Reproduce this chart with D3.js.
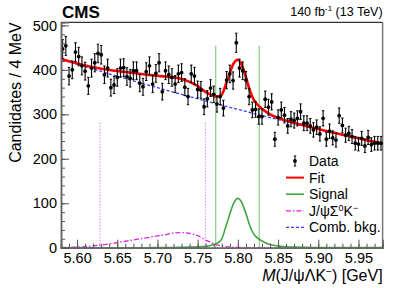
<!DOCTYPE html>
<html>
<head>
<meta charset="utf-8">
<script src="https://cdn.jsdelivr.net/npm/d3@7"></script>
<style>
    body { margin: 0; background: #fff; }
    text { font-family: "Liberation Sans", Arial, sans-serif; fill: #000; }
</style>
</head>
<body>
<svg id="chart" width="399" height="288"></svg>
<script>
// 4 MeV bins from 5.58 to 5.98 GeV
const binStart = 5.58;
const binWidth = 0.004;
const counts = [
    447, 454, 386, 400, 440, 430, 409, 397, 364, 404,
    416, 437, 434, 389, 404, 360, 366, 383, 404, 405,
    385, 381, 398, 398, 370, 362, 396, 409, 368, 392,
    416, 351, 398, 389, 383, 368, 391, 394, 361, 340,
    391, 386, 356, 355, 317, 335, 359, 345, 323, 340,
    314, 377, 391, 376, 461, 404, 398, 377, 340, 310,
    311, 295, 295, 334, 316, 328, 244, 293, 310, 298,
    274, 289, 286, 291, 306, 280, 280, 274, 265, 271,
    256, 291, 244, 262, 247, 242, 297, 275, 253, 257,
    250, 235, 233, 246, 229, 248, 232, 235, 235, 235
];

const curveMass = [
    5.58, 5.59, 5.60, 5.61, 5.62, 5.63, 5.64, 5.65, 5.66, 5.67,
    5.68, 5.69, 5.70, 5.71, 5.72, 5.73, 5.74, 5.75, 5.76, 5.765,
    5.77, 5.775, 5.78, 5.785, 5.79, 5.795, 5.80, 5.805, 5.81, 5.815,
    5.82, 5.825, 5.83, 5.84, 5.85, 5.86, 5.87, 5.88, 5.89, 5.90,
    5.91, 5.92, 5.93, 5.94, 5.95, 5.96, 5.97, 5.98
];
const fitVals = [
    424.5, 419.4, 414.4, 409.9, 405.9, 402.5, 399.7, 397.3, 395.1, 392.8,
    390.6, 388.5, 386.7, 384.7, 383.4, 379.7, 373.0, 363.7, 350.1, 345.2,
    341.3, 339.9, 344.5, 367.6, 393.3, 415.4, 422.7, 410.2, 383.7, 353.3,
    331.9, 320.6, 312.3, 299.8, 291.8, 285.9, 280.7, 275.9, 271.4, 267.0,
    262.6, 258.5, 254.2, 250.1, 246.1, 242.0, 238.0, 234.1
];
const bkgVals = [
    424.0, 418.4, 412.9, 407.4, 401.9, 396.5, 391.2, 385.8, 380.6, 375.3,
    370.1, 365.0, 359.9, 354.8, 349.8, 344.8, 339.8, 334.9, 330.1, 327.7,
    325.3, 322.9, 320.5, 318.1, 315.8, 313.4, 311.1, 308.8, 306.4, 304.1,
    301.8, 299.6, 297.3, 292.8, 288.3, 283.9, 279.5, 275.1, 270.8, 266.6,
    262.3, 258.2, 254.0, 249.9, 245.9, 241.9, 237.9, 234.0
];
const sigma0Vals = [
    0.5, 1, 1.5, 2.5, 4, 6, 8.5, 11.5, 14.5, 17.5,
    20.5, 23.5, 26.5, 29.5, 33, 34, 32, 27, 17, 13,
    9, 6, 4, 2.5, 1.5, 1, 0.6, 0.4, 0.3, 0.2,
    0.1, 0, 0, 0, 0, 0, 0, 0, 0, 0,
    0, 0, 0, 0, 0, 0, 0, 0
];
const signalVals = [
    0, 0, 0, 0, 0, 0, 0, 0, 0, 0,
    0, 0, 0.3, 0.4, 0.6, 0.9, 1.2, 1.8, 3, 4.5,
    7, 11, 20, 47, 76, 101, 111, 101, 77, 49,
    30, 21, 15, 7, 3.5, 2, 1.2, 0.8, 0.6, 0.4,
    0.3, 0.3, 0.2, 0.2, 0.2, 0.1, 0.1, 0.1
];

// signal window (green) and Sigma0 window (violet) boundaries
const signalWindow = [5.7725, 5.8265];
const signalWindowTop = 454;
const sigma0Window = [5.6285, 5.7595];
const sigma0WindowTop = 281;

const xMajor = [5.60, 5.65, 5.70, 5.75, 5.80, 5.85, 5.90, 5.95];
const xMinor = d3.range(5.58, 5.9801, 0.01);
const yMajor = [0, 100, 200, 300, 400, 500];
const yMinor = d3.range(0, 501, 20);

const legendLabels = ['Data', 'Fit', 'Signal', 'Sigma0', 'Comb. bkg.'];

const colors = {
    fit: '#ff0000',
    signal: '#3fa33f',
    signalLine: '#72c272',
    sigma0: '#e020e0',
    sigma0Line: '#cc88ff',
    bkg: '#3a3aff'
};

const svg = d3.select('#chart');
const plot = { left: 61, right: 382.6, top: 22.3, bottom: 247.7 };

const x = d3.scaleLinear().domain([5.58, 5.98]).range([plot.left, plot.right]);
const y = d3.scaleLinear().domain([0, 507]).range([plot.bottom, plot.top]);

// frame
svg.append('line').attr('x1', plot.left).attr('x2', plot.right)
    .attr('y1', plot.top).attr('y2', plot.top).attr('stroke', '#000').attr('stroke-width', 1);
svg.append('line').attr('x1', plot.right).attr('x2', plot.right)
    .attr('y1', plot.top).attr('y2', plot.bottom).attr('stroke', '#777').attr('stroke-width', 1.5);

// window lines
svg.selectAll('.sig-win')
    .data(signalWindow)
    .enter().append('line')
    .attr('x1', d => x(d)).attr('x2', d => x(d))
    .attr('y1', y(signalWindowTop)).attr('y2', y(0))
    .attr('stroke', colors.signalLine).attr('stroke-width', 1);

svg.selectAll('.s0-win')
    .data(sigma0Window)
    .enter().append('line')
    .attr('x1', d => x(d)).attr('x2', d => x(d))
    .attr('y1', y(sigma0WindowTop)).attr('y2', y(0))
    .attr('stroke', colors.sigma0Line).attr('stroke-width', 1)
    .attr('stroke-dasharray', '1.5,1.5');

// curves
const line = vals => d3.line()
    .x((d, i) => x(curveMass[i]))
    .y(d => y(d))
    .curve(d3.curveMonotoneX)(vals);

svg.append('path').attr('d', line(bkgVals))
    .attr('fill', 'none').attr('stroke', colors.bkg).attr('stroke-width', 1.3)
    .attr('stroke-dasharray', '3,2');
svg.append('path').attr('d', line(sigma0Vals))
    .attr('fill', 'none').attr('stroke', colors.sigma0).attr('stroke-width', 1.3)
    .attr('stroke-dasharray', '5,2,1.5,2');
svg.append('path').attr('d', line(signalVals))
    .attr('fill', 'none').attr('stroke', colors.signal).attr('stroke-width', 1.6);
svg.append('path').attr('d', line(fitVals))
    .attr('fill', 'none').attr('stroke', colors.fit).attr('stroke-width', 2.6);

// data points with Poisson errors
const pts = svg.append('g').selectAll('g')
    .data(counts)
    .enter().append('g')
    .attr('transform', (d, i) => `translate(${x(binStart + binWidth * (i + 0.5))},0)`);

pts.append('line')
    .attr('y1', d => y(d + Math.sqrt(d))).attr('y2', d => y(d - Math.sqrt(d)))
    .attr('stroke', '#000').attr('stroke-width', 1.1);
pts.append('line')
    .attr('x1', -1.2).attr('x2', 1.2)
    .attr('y1', d => y(d + Math.sqrt(d))).attr('y2', d => y(d + Math.sqrt(d)))
    .attr('stroke', '#000').attr('stroke-width', 1);
pts.append('line')
    .attr('x1', -1.2).attr('x2', 1.2)
    .attr('y1', d => y(d - Math.sqrt(d))).attr('y2', d => y(d - Math.sqrt(d)))
    .attr('stroke', '#000').attr('stroke-width', 1);
pts.append('circle')
    .attr('cy', d => y(d)).attr('r', 1.9).attr('fill', '#000');

// axes
const xAxis = svg.append('g').attr('transform', `translate(0,${plot.bottom})`);
xAxis.call(d3.axisBottom(x).tickValues(xMinor).tickSize(-4).tickFormat(''));
xAxis.call(g => g.selectAll('.tick line').attr('stroke', '#555'));
const xAxisMajor = svg.append('g').attr('transform', `translate(0,${plot.bottom})`)
    .call(d3.axisBottom(x).tickValues(xMajor).tickSize(-8).tickPadding(5)
        .tickFormat(d3.format('.2f')));
xAxisMajor.selectAll('.tick line').attr('stroke', '#555');
xAxisMajor.selectAll('text').style('font-size', '14.5px').attr('fill', '#000');
svg.selectAll('.domain').attr('stroke', '#333').attr('stroke-width', 1.5);

const yAxis = svg.append('g').attr('transform', `translate(${plot.left},0)`);
yAxis.call(d3.axisLeft(y).tickValues(yMinor).tickSize(-4).tickFormat(''));
yAxis.selectAll('.tick line').attr('stroke', '#555');
const yAxisMajor = svg.append('g').attr('transform', `translate(${plot.left},0)`)
    .call(d3.axisLeft(y).tickValues(yMajor).tickSize(-8).tickPadding(4));
yAxisMajor.selectAll('.tick line').attr('stroke', '#555');
yAxisMajor.selectAll('text').style('font-size', '14.5px').attr('fill', '#000');
svg.selectAll('.domain').attr('stroke', '#666').attr('stroke-width', 1.5);

// titles
svg.append('text')
    .attr('transform', `translate(21,${plot.top}) rotate(-90)`)
    .attr('text-anchor', 'end')
    .style('font-size', '16px')
    .text('Candidates / 4 MeV');

const xTitle = svg.append('text')
    .attr('x', plot.right).attr('y', 281)
    .attr('text-anchor', 'end')
    .style('font-size', '16px');
xTitle.append('tspan').style('font-style', 'italic').text('M');
xTitle.append('tspan').text('(J/ψΛK');
xTitle.append('tspan').attr('dy', -6).style('font-size', '10px').text('−');
xTitle.append('tspan').attr('dy', 6).text(') [GeV]');

svg.append('text')
    .attr('x', plot.left + 1).attr('y', 18)
    .style('font-size', '17px').style('font-weight', 'bold')
    .text('CMS');

const lumi = svg.append('text')
    .attr('x', plot.right).attr('y', 16)
    .attr('text-anchor', 'end')
    .style('font-size', '12.5px');
lumi.append('tspan').text('140 fb');
lumi.append('tspan').attr('dy', -5).style('font-size', '8px').text('-1');
lumi.append('tspan').attr('dy', 5).text(' (13 TeV)');

// legend
const legend = svg.append('g').attr('transform', 'translate(286,161)');
const rowH = 16.6;
const rows = legend.selectAll('g')
    .data(legendLabels)
    .enter().append('g')
    .attr('transform', (d, i) => `translate(0,${i * rowH})`);

rows.each(function (d, i) {
    const g = d3.select(this);
    if (i === 0) {
        g.append('line').attr('x1', 9).attr('x2', 9).attr('y1', -5).attr('y2', 5)
            .attr('stroke', '#000');
        g.append('line').attr('x1', 7.8).attr('x2', 10.2).attr('y1', -5).attr('y2', -5).attr('stroke', '#000');
        g.append('line').attr('x1', 7.8).attr('x2', 10.2).attr('y1', 5).attr('y2', 5).attr('stroke', '#000');
        g.append('circle').attr('cx', 9).attr('r', 1.9).attr('fill', '#000');
    } else {
        const st = [null,
            { c: colors.fit, w: 2, dash: null },
            { c: colors.signal, w: 1.6, dash: null },
            { c: colors.sigma0, w: 1.3, dash: '5,2,1.5,2' },
            { c: colors.bkg, w: 1.3, dash: '3,2' }][i];
        g.append('line').attr('x1', 0).attr('x2', 18).attr('y1', 0).attr('y2', 0)
            .attr('stroke', st.c).attr('stroke-width', st.w)
            .attr('stroke-dasharray', st.dash);
    }
    const t = g.append('text').attr('x', 23).attr('y', 5).style('font-size', '14px');
    if (d === 'Sigma0') {
        t.append('tspan').text('J/ψΣ');
        t.append('tspan').attr('dy', -5).style('font-size', '9px').text('0');
        t.append('tspan').attr('dy', 5).text('K');
        t.append('tspan').attr('dy', -5).style('font-size', '9px').text('−');
    } else {
        t.text(d);
    }
});
</script>
</body>
</html>
